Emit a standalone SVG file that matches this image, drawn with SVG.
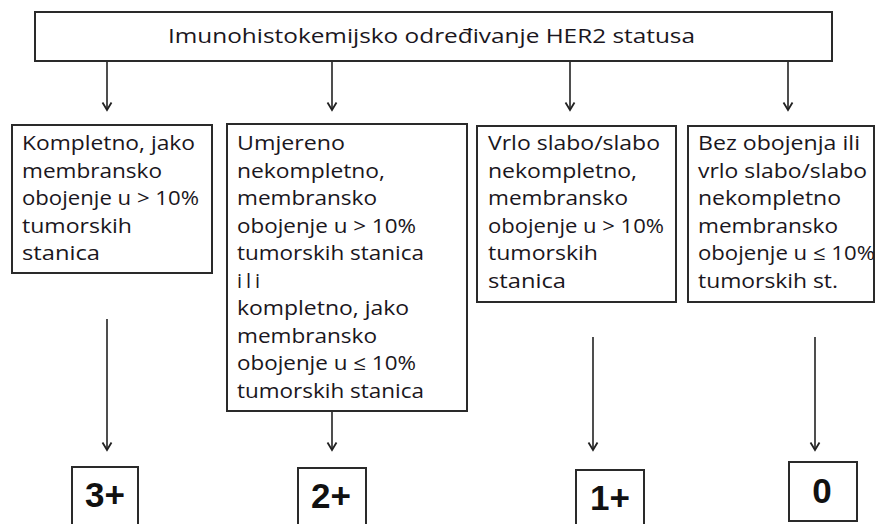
<svg xmlns="http://www.w3.org/2000/svg" width="879" height="524" viewBox="0 0 879 524">
<defs>
<marker id="ah" markerWidth="12" markerHeight="12" refX="10" refY="6" orient="auto" markerUnits="userSpaceOnUse" viewBox="0 0 12 12">
<polyline points="2.5,1.5 10,6 2.5,10.5" fill="none" stroke="#222" stroke-width="1.8"/>
</marker>
<style>
.box{fill:#fff;stroke:#2a2a2a;stroke-width:2}
.t{font-family:"Open Sans","DejaVu Sans",sans-serif;font-size:20px;fill:#1a1620}
.tt{font-family:"Open Sans","DejaVu Sans",sans-serif;font-size:20px;fill:#1a1620}
.big{font-family:"Liberation Sans",Arial,sans-serif;font-size:35px;font-weight:bold;fill:#111}
.c{stroke:#222;stroke-width:1.6;fill:none;marker-end:url(#ah)}
</style>
</defs>
<rect width="879" height="524" fill="#fff"/>
<g id="title">
<rect class="box" x="35" y="12" width="797" height="49" stroke-width="2.5"/>
<text class="tt" x="168" y="43" textLength="527" lengthAdjust="spacingAndGlyphs">Imunohistokemijsko određivanje HER2 statusa</text>
</g>
<g id="connectors">
<line class="c" x1="107" y1="62" x2="107" y2="110"/>
<line class="c" x1="332" y1="62" x2="332" y2="110"/>
<line class="c" x1="570" y1="62" x2="570" y2="110"/>
<line class="c" x1="788" y1="62" x2="788" y2="110"/>
<line class="c" x1="107" y1="319" x2="107" y2="450"/>
<line class="c" x1="332" y1="411" x2="332" y2="450"/>
<line class="c" x1="593" y1="337" x2="593" y2="450"/>
<line class="c" x1="815" y1="337" x2="815" y2="450"/>
</g>
<g id="box1">
<rect class="box" x="12" y="125" width="200" height="148"/>
<text class="t" x="22" y="150" textLength="173" lengthAdjust="spacingAndGlyphs">Kompletno, jako</text>
<text class="t" x="22" y="177.5" textLength="140" lengthAdjust="spacingAndGlyphs">membransko</text>
<text class="t" x="22" y="205" textLength="177" lengthAdjust="spacingAndGlyphs">obojenje u &gt; 10%</text>
<text class="t" x="22" y="232.5" textLength="110" lengthAdjust="spacingAndGlyphs">tumorskih</text>
<text class="t" x="22" y="260" textLength="78" lengthAdjust="spacingAndGlyphs">stanica</text>
</g>
<g id="box2">
<rect class="box" x="227" y="124" width="240" height="287"/>
<text class="t" x="237" y="150" textLength="108" lengthAdjust="spacingAndGlyphs">Umjereno</text>
<text class="t" x="237" y="177.5" textLength="148" lengthAdjust="spacingAndGlyphs">nekompletno,</text>
<text class="t" x="237" y="205" textLength="140" lengthAdjust="spacingAndGlyphs">membransko</text>
<text class="t" x="237" y="232.5" textLength="179" lengthAdjust="spacingAndGlyphs">obojenje u &gt; 10%</text>
<text class="t" x="237" y="260" textLength="187" lengthAdjust="spacingAndGlyphs">tumorskih stanica</text>
<text class="t" x="237" y="287.5" textLength="23" lengthAdjust="spacing">ili</text>
<text class="t" x="237" y="315" textLength="172" lengthAdjust="spacingAndGlyphs">kompletno, jako</text>
<text class="t" x="237" y="342.5" textLength="140" lengthAdjust="spacingAndGlyphs">membransko</text>
<text class="t" x="237" y="370" textLength="179" lengthAdjust="spacingAndGlyphs">obojenje u ≤ 10%</text>
<text class="t" x="237" y="397.5" textLength="187" lengthAdjust="spacingAndGlyphs">tumorskih stanica</text>
</g>
<g id="box3">
<rect class="box" x="477" y="126" width="199" height="176"/>
<text class="t" x="488" y="150" textLength="172" lengthAdjust="spacingAndGlyphs">Vrlo slabo/slabo</text>
<text class="t" x="488" y="177.5" textLength="149" lengthAdjust="spacingAndGlyphs">nekompletno,</text>
<text class="t" x="488" y="205" textLength="140" lengthAdjust="spacingAndGlyphs">membransko</text>
<text class="t" x="488" y="232.5" textLength="176" lengthAdjust="spacingAndGlyphs">obojenje u &gt; 10%</text>
<text class="t" x="488" y="260" textLength="110" lengthAdjust="spacingAndGlyphs">tumorskih</text>
<text class="t" x="488" y="287.5" textLength="78" lengthAdjust="spacingAndGlyphs">stanica</text>
</g>
<g id="box4">
<rect class="box" x="688" y="126" width="186" height="176"/>
<text class="t" x="698" y="150" textLength="162" lengthAdjust="spacingAndGlyphs">Bez obojenja ili</text>
<text class="t" x="698" y="177.5" textLength="169" lengthAdjust="spacingAndGlyphs">vrlo slabo/slabo</text>
<text class="t" x="698" y="205" textLength="143" lengthAdjust="spacingAndGlyphs">nekompletno</text>
<text class="t" x="698" y="232.5" textLength="140" lengthAdjust="spacingAndGlyphs">membransko</text>
<text class="t" x="698" y="260" textLength="177" lengthAdjust="spacingAndGlyphs">obojenje u ≤ 10%</text>
<text class="t" x="698" y="287.5" textLength="140" lengthAdjust="spacingAndGlyphs">tumorskih st.</text>
</g>
<g id="r3">
<rect class="box" x="72" y="467" width="66" height="70"/>
<text class="big" x="105" y="507" text-anchor="middle">3+</text>
</g>
<g id="r2">
<rect class="box" x="298" y="468" width="68" height="70"/>
<text class="big" x="331" y="508" text-anchor="middle">2+</text>
</g>
<g id="r1">
<rect class="box" x="576" y="470" width="68" height="70"/>
<text class="big" x="610" y="510" text-anchor="middle">1+</text>
</g>
<g id="r0">
<rect class="box" x="789" y="462" width="68" height="59"/>
<text class="big" x="822" y="503" text-anchor="middle">0</text>
</g>
</svg>
